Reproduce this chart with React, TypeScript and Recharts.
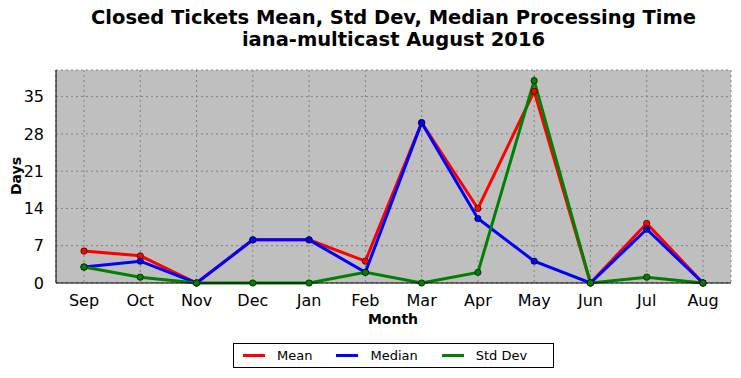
import { LineChart, Line, XAxis, YAxis, CartesianGrid, Legend } from "recharts";

const months = ["Sep", "Oct", "Nov", "Dec", "Jan", "Feb", "Mar", "Apr", "May", "Jun", "Jul", "Aug"];
const meanDays = [6, 5.1, 0, 8.1, 8.1, 4.1, 30.1, 14, 36, 0, 11.2, 0];
const medianDays = [3, 4.1, 0, 8.1, 8.1, 2, 30.1, 12.1, 4.1, 0, 10.1, 0];
const stdDays = [3, 1.1, 0, 0, 0, 2, 0, 2, 38, 0, 1.1, 0];
const yTicks = [0, 7, 14, 21, 28, 35];

const rows = months.map((m, i) => ({ month: m, mean: meanDays[i], median: medianDays[i], std: stdDays[i] }));

const series = [
  { key: "mean", name: "Mean", color: "#ff0000" },
  { key: "median", name: "Median", color: "#0000ff" },
  { key: "std", name: "Std Dev", color: "#008000" },
];

const font = "'DejaVu Sans', sans-serif";

function LegendBox() {
  return (
    <div style={{ display: "flex", alignItems: "center", border: "1px solid #000", background: "#fff", height: 25, width: 321, boxSizing: "border-box", fontFamily: font, fontSize: 13, color: "#000" }}>
      {series.map((s, i) => (
        <div key={s.key} style={{ display: "flex", alignItems: "center", marginLeft: i === 0 ? 9 : 24 }}>
          <div style={{ width: 22, height: 3, background: s.color, marginRight: 12 }} />
          <span>{s.name}</span>
        </div>
      ))}
    </div>
  );
}

export default function App() {
  return (
    <div style={{ position: "absolute", left: 0, top: 0, width: 741, height: 378, background: "#fff", fontFamily: font }}>
      <div style={{ position: "absolute", top: 7, left: 46, width: 695, textAlign: "center", fontWeight: "bold", fontSize: 19.5, lineHeight: "22px", color: "#000" }}>
        Closed Tickets Mean, Std Dev, Median Processing Time
        <br />
        iana-multicast August 2016
      </div>
      <div style={{ position: "absolute", left: 16, top: 176, transform: "translate(-50%, -50%) rotate(-90deg)", fontWeight: "bold", fontSize: 14, color: "#000" }}>
        Days
      </div>
      <div style={{ position: "absolute", left: 393, top: 319, transform: "translate(-50%, -50%)", fontWeight: "bold", fontSize: 14, color: "#000" }}>
        Month
      </div>
      <LineChart width={741} height={378} data={rows} margin={{ top: 70, right: 10, bottom: 40, left: 16 }}>
        <CartesianGrid fill="#bfbfbf" stroke="#808080" strokeDasharray="2 3" />
        <XAxis
          dataKey="month"
          padding={{ left: 28, right: 28 }}
          height={30}
          tickLine={false}
          tickMargin={6}
          axisLine={{ stroke: "#000" }}
          tick={{ fill: "#000", fontSize: 16, fontFamily: font }}
          interval={0}
        />
        <XAxis xAxisId="top" dataKey="month" orientation="top" height={0} tick={false} tickLine={false} axisLine={{ stroke: "#000" }} padding={{ left: 28, right: 28 }} />
        <YAxis
          domain={[0, 40]}
          ticks={yTicks}
          width={40}
          tickLine={false}
          tickMargin={6}
          axisLine={{ stroke: "#000" }}
          tick={{ fill: "#000", fontSize: 16, fontFamily: font }}
        />
        <YAxis yAxisId="right" orientation="right" width={0} domain={[0, 40]} tick={false} tickLine={false} axisLine={{ stroke: "#000" }} />
        <Legend
          verticalAlign="bottom"
          content={() => <LegendBox />}
          wrapperStyle={{ position: "absolute", left: 233, top: 343, width: 321, bottom: "auto" }}
        />
        {series.map((s) => (
          <Line
            key={s.key}
            type="linear"
            dataKey={s.key}
            name={s.name}
            stroke={s.color}
            strokeWidth={3}
            dot={{ r: 3.2, fill: s.color, stroke: "#000", strokeWidth: 0.6 }}
            isAnimationActive={false}
          />
        ))}
      </LineChart>
    </div>
  );
}
